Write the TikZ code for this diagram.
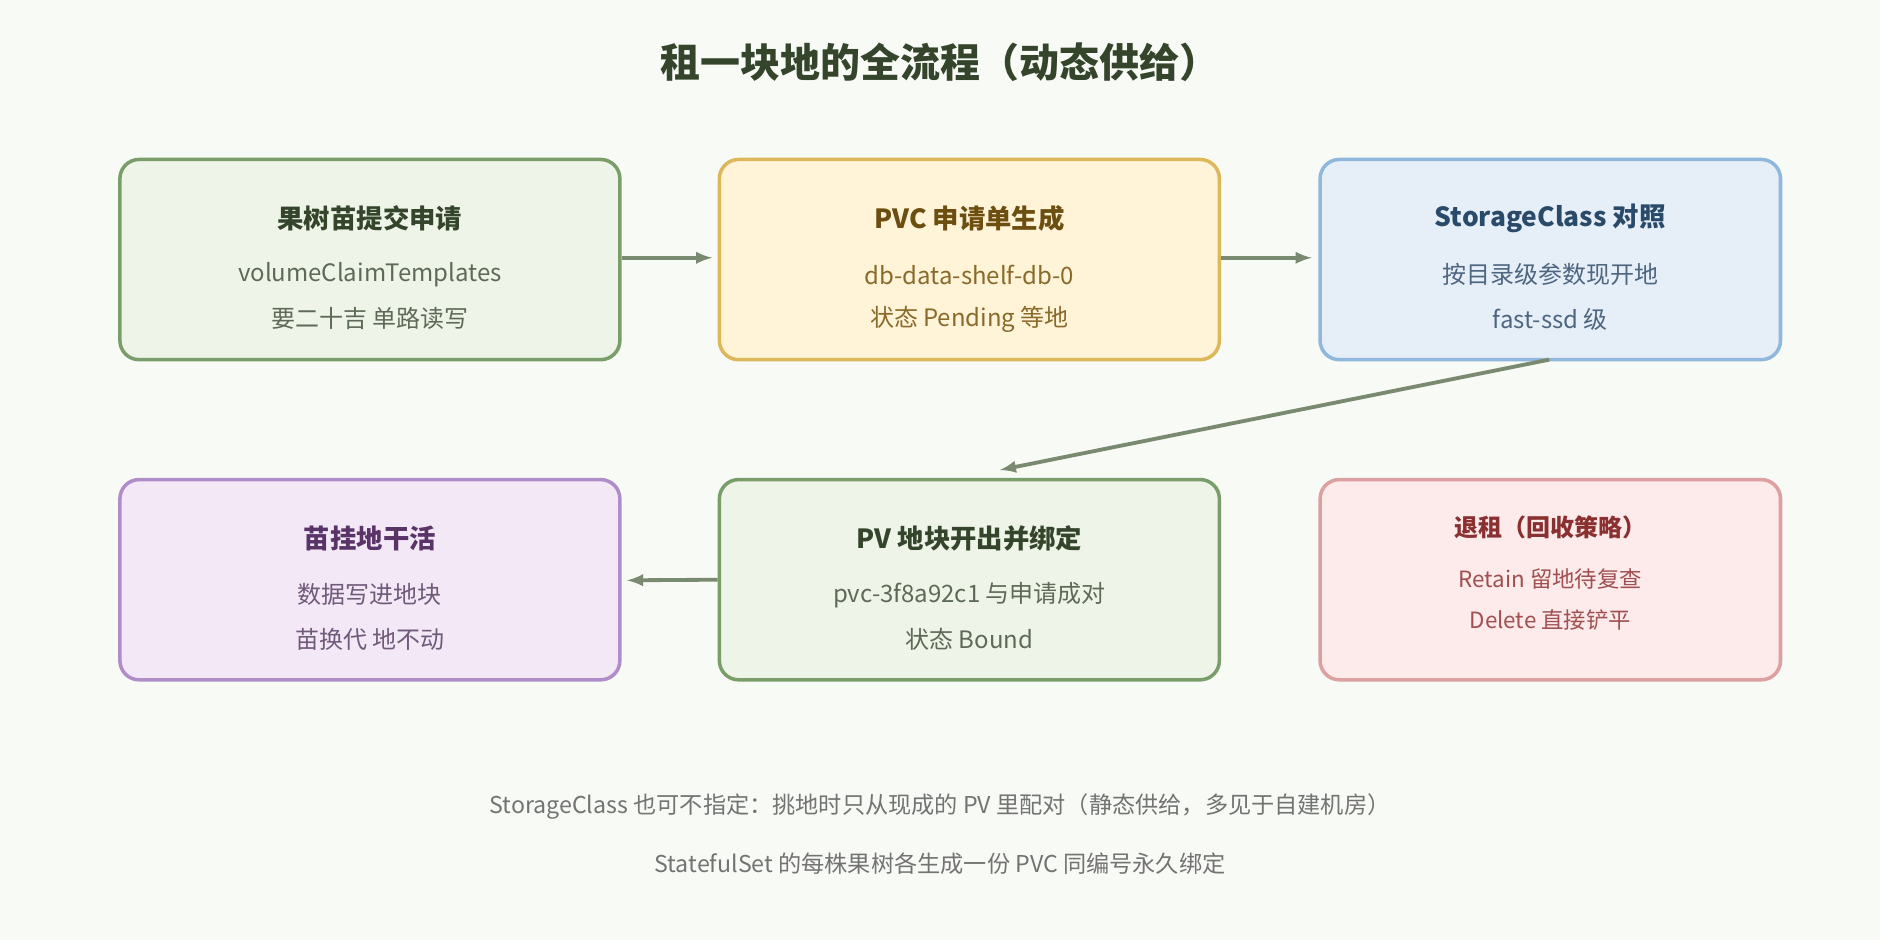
\documentclass[tikz,border=0pt]{standalone}
\usepackage{fontspec}
\setmainfont{Noto Sans CJK SC}
\usetikzlibrary{positioning}
\definecolor{bgc}{HTML}{F8FAF5}
\definecolor{arrc}{HTML}{7A8A70}
\definecolor{gbd}{HTML}{7A9E6A}\definecolor{gfl}{HTML}{EEF4E8}\definecolor{gtt}{HTML}{34452C}\definecolor{gtx}{HTML}{5E6A58}
\definecolor{ybd}{HTML}{DCB85A}\definecolor{yfl}{HTML}{FFF4D8}\definecolor{ytt}{HTML}{6B4E10}\definecolor{ytx}{HTML}{8A6A2A}
\definecolor{bbd}{HTML}{8FB8DC}\definecolor{bfl}{HTML}{E6EFF8}\definecolor{btt}{HTML}{2A4A6A}\definecolor{btx}{HTML}{4E6680}
\definecolor{pbd}{HTML}{B08CC8}\definecolor{pfl}{HTML}{F3E8F6}\definecolor{ptt}{HTML}{5A3468}\definecolor{ptx}{HTML}{705A7A}
\definecolor{rbd}{HTML}{DCA0A0}\definecolor{rfl}{HTML}{FDEAEA}\definecolor{rtt}{HTML}{8A3030}\definecolor{rtx}{HTML}{A05050}
\tikzset{
  box/.style={draw=#1bd, fill=#1fl, line width=2.2pt, rounded corners=12pt,
    minimum width=417*0.75pt, minimum height=167*0.75pt},
  wbox/.style={box=#1, minimum width=384*0.75pt},
  hd/.style={font=\bfseries\fontsize{16.5pt}{20pt}\selectfont, text=#1},
  tx/.style={font=\fontsize{15pt}{18pt}\selectfont, text=#1},
  flow/.style={-latex, arrc, line width=2.4pt},
}
\begin{document}
\begin{tikzpicture}[x=0.75pt, y=-0.75pt]
  \fill[bgc] (0,0) rectangle (1568,784);

  % title
  \node[font=\bfseries\fontsize{25pt}{30pt}\selectfont, text=gtt] (title) at (784,52) {租一块地的全流程（动态供给）};

  % boxes
  \node[box=g] (apply) at (308.5,216.5) {};
  \node[box=y] (pvc) at (808.5,216.5) {};
  \node[wbox=b] (sc) at (1293,216.5) {};
  \node[box=p] (work) at (308.5,483.5) {};
  \node[box=g] (pv) at (808.5,483.5) {};
  \node[wbox=r] (retire) at (1293,483.5) {};

  % texts
  \node[hd=gtt] (t1) at (308.5,182) {果树苗提交申请};
  \node[tx=gtx] (a1) at (308.5,229) {volumeClaimTemplates};
  \node[tx=gtx] (b1) at (308.5,266) {要二十吉 单路读写};
  \node[hd=ytt] (t2) at (808.5,182) {PVC 申请单生成};
  \node[tx=ytx] (a2) at (808.5,229) {db-data-shelf-db-0};
  \node[tx=ytx] (b2) at (808.5,266) {状态 Pending 等地};
  \node[hd=btt] (t3) at (1293,182) {StorageClass 对照};
  \node[tx=btx] (a3) at (1293,229) {按目录级参数现开地};
  \node[tx=btx] (b3) at (1293,266) {fast-ssd 级};
  \node[hd=ptt] (t4) at (308.5,449) {苗挂地干活};
  \node[tx=ptx] (a4) at (308.5,496) {数据写进地块};
  \node[tx=ptx] (b4) at (308.5,533) {苗换代 地不动};
  \node[hd=gtt] (t5) at (808.5,449) {PV 地块开出并绑定};
  \node[tx=gtx] (a5) at (808.5,496) {pvc-3f8a92c1 与申请成对};
  \node[tx=gtx] (b5) at (808.5,533) {状态 Bound};
  \node[hd=rtt, font=\bfseries\fontsize{15pt}{18pt}\selectfont] (t6) at (1293,440) {退租（回收策略）};
  \node[tx=rtx, font=\fontsize{14pt}{17pt}\selectfont] (a6) at (1293,483) {Retain 留地待复查};
  \node[tx=rtx, font=\fontsize{14pt}{17pt}\selectfont] (b6) at (1293,517) {Delete 直接铲平};

  % flow
  \coordinate (e1) at (594,215);
  \coordinate (e2) at (1094,215);
  \coordinate (s3) at (1292,300);
  \coordinate (e3) at (834,392);
  \coordinate (e4) at (523,484);
  \draw[flow] (apply.east |- e1) -- (e1);
  \draw[flow] (pvc.east |- e2) -- (e2);
  \draw[flow] (s3) -- (e3);
  \draw[flow] (pv.west) -- (e4);

  % notes
  \node[tx=gray!90!black, font=\fontsize{14.5pt}{17pt}\selectfont] (n1) at (784,673) {StorageClass 也可不指定：挑地时只从现成的 PV 里配对（静态供给，多见于自建机房）};
  \node[tx=gray!90!black, font=\fontsize{14.5pt}{17pt}\selectfont] (n2) at (784,720) {StatefulSet 的每株果树各生成一份 PVC 同编号永久绑定};
\end{tikzpicture}
\end{document}
